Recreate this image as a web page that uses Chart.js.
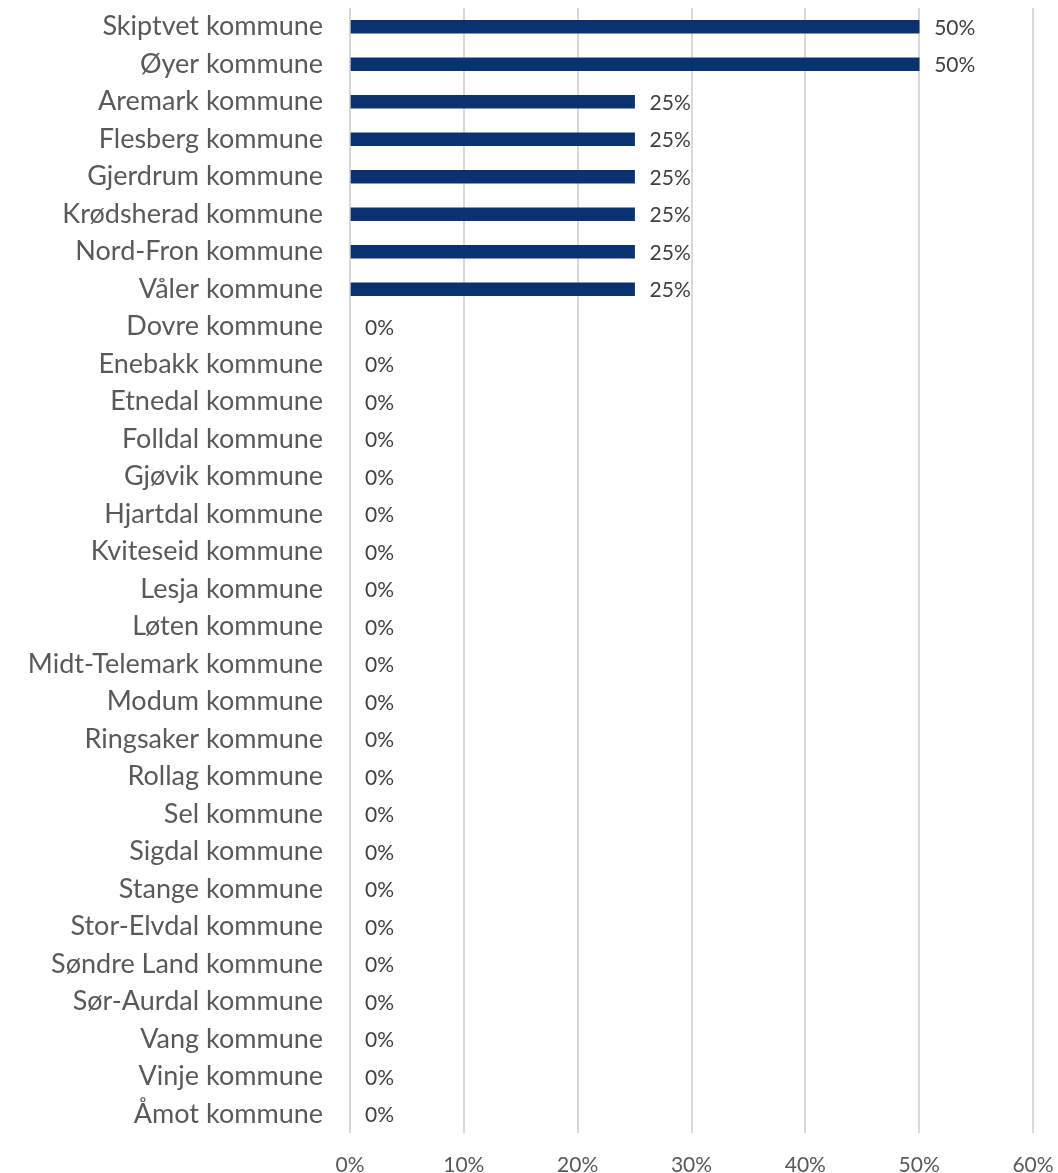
<!DOCTYPE html>
<html><head><meta charset="utf-8">
<script src="https://cdn.jsdelivr.net/npm/chart.js@4"></script>
<style>html,body{margin:0;padding:0;background:#fff;overflow:hidden}#wrap{width:1058px;height:1173px}</style>
</head><body><div id="wrap"><canvas id="c"></canvas></div>
<script>
const categories = ["Skiptvet kommune","Øyer kommune","Aremark kommune","Flesberg kommune","Gjerdrum kommune","Krødsherad kommune","Nord-Fron kommune","Våler kommune","Dovre kommune","Enebakk kommune","Etnedal kommune","Folldal kommune","Gjøvik kommune","Hjartdal kommune","Kviteseid kommune","Lesja kommune","Løten kommune","Midt-Telemark kommune","Modum kommune","Ringsaker kommune","Rollag kommune","Sel kommune","Sigdal kommune","Stange kommune","Stor-Elvdal kommune","Søndre Land kommune","Sør-Aurdal kommune","Vang kommune","Vinje kommune","Åmot kommune"];
const values = [0.5,0.5,0.25,0.25,0.25,0.25,0.25,0.25,0,0,0,0,0,0,0,0,0,0,0,0,0,0,0,0,0,0,0,0,0,0];
const xTicks = [0,0.1,0.2,0.3,0.4,0.5,0.6];

const FONT = "Lato, 'Open Sans', sans-serif";
const labelPlugin = {
  id: 'valLabels',
  afterDatasetsDraw(chart) {
    const ctx = chart.ctx;
    const meta = chart.getDatasetMeta(0);
    ctx.save();
    ctx.font = "21px " + FONT;
    ctx.fillStyle = "#404040";
    ctx.textAlign = "left";
    ctx.textBaseline = "middle";
    meta.data.forEach((bar, i) => {
      ctx.fillText(Math.round(values[i]*100) + "%", bar.x + 15, bar.y + 1);
    });
    ctx.restore();
  }
};

new Chart(document.getElementById('c'), {
  type: 'bar',
  data: { labels: categories, datasets: [{ data: values, backgroundColor: c => (values[c.dataIndex] > 0 ? '#0b3270' : 'rgba(0,0,0,0)'), barThickness: 13 }] },
  options: {
    indexAxis: 'y',
    responsive: true,
    maintainAspectRatio: false,
    animation: false,
    layout: { padding: { top: 8, right: 25, left: 0, bottom: 0 } },
    plugins: { legend: { display: false }, tooltip: { enabled: false } },
    scales: {
      x: {
        min: 0, max: 0.6,
        afterBuildTicks(s) { s.ticks = xTicks.map(v => ({ value: v })); },
        afterFit(s) { s.height = 40; s.paddingLeft = 0; s.paddingRight = 0; },
        grid: { color: '#d9d9d9', lineWidth: 2, drawTicks: false },
        border: { display: false },
        ticks: { padding: 20, color: '#595959', font: { size: 21, family: FONT }, callback: v => Math.round(v*100) + '%' }
      },
      y: {
        afterFit(s) { s.width = 350; s.paddingTop = 0; s.paddingBottom = 0; },
        grid: { display: false, drawTicks: false },
        border: { display: false },
        ticks: { padding: 27, color: '#595959', font: { size: 27, family: FONT }, autoSkip: false }
      }
    }
  },
  plugins: [labelPlugin]
});
</script></body></html>
